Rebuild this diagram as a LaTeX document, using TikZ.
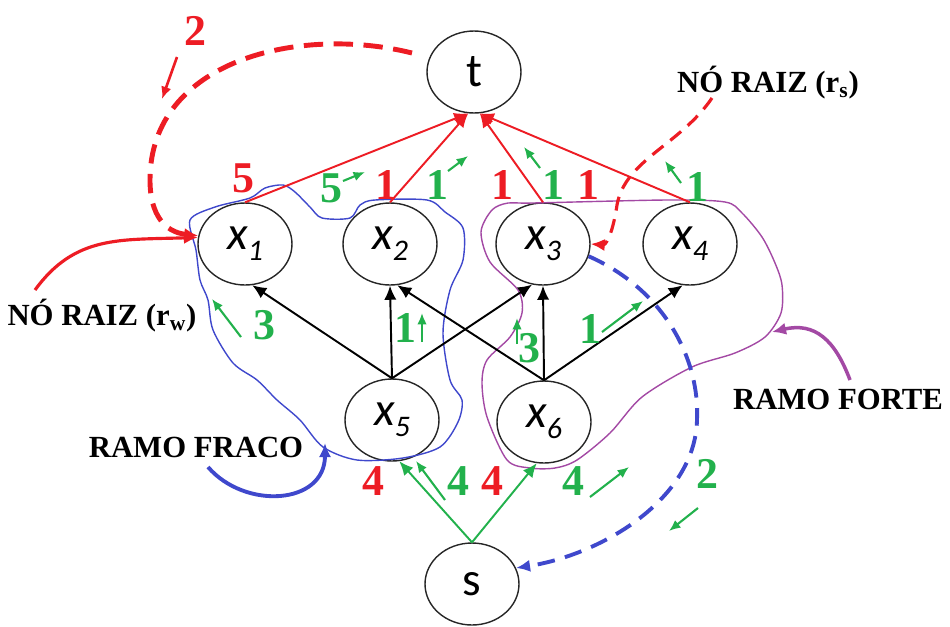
\documentclass[tikz,border=0pt]{standalone}
\usepackage{fontspec}
\setmainfont{Liberation Serif}
\newfontfamily\nodefont{Carlito}
\usepackage{tikz}
\usetikzlibrary{shapes.geometric,arrows.meta}

\definecolor{pred}{RGB}{237,28,36}
\definecolor{pgreen}{RGB}{34,177,76}
\definecolor{pblue}{RGB}{63,72,204}
\definecolor{ppurple}{RGB}{163,73,164}

\newcommand{\xsub}[1]{\textit{x}\raisebox{-0.5ex}{\fontsize{17}{17}\selectfont\textit{#1}}}

\begin{document}
\begin{tikzpicture}[x=0.02cm,y=-0.02cm,
  vert/.style={ellipse,draw=black!85,line width=0.8pt,minimum width=1.88cm,minimum height=1.64cm,inner sep=0pt,font=\nodefont\fontsize{27}{27}\selectfont},
  wt/.style={inner sep=0pt,font=\bfseries\fontsize{25}{25}\selectfont},
  tag/.style={inner sep=0pt,font=\bfseries\fontsize{17.5}{18}\selectfont},
  fl/.style={pgreen,line width=1.2pt,-{Latex[length=6.5pt,width=5.5pt]}},
  >={Latex[length=8pt,width=7pt]}]
  \useasboundingbox (0,0) rectangle (950,626);

  % vertices
  \node[vert] (t)  at (474,72)  {t};
  \node[vert] (x1) at (245,244) {\xsub{1}};
  \node[vert] (x2) at (390,244) {\xsub{2}};
  \node[vert] (x3) at (543,244) {\xsub{3}};
  \node[vert] (x4) at (690,244) {\xsub{4}};
  \node[vert] (x5) at (392,420) {\xsub{5}};
  \node[vert] (x6) at (544,422) {\xsub{6}};
  \node[vert] (s)  at (472,584) {s};

  % branches (drawn by hand)
  \draw[pblue,line width=0.8pt] plot[smooth cycle,tension=0.5] coordinates {
    (190,220) (215,207) (250,198) (265,188) (283,185) (295,192) (310,207) (322,218)
    (350,218) (360,205) (375,200) (427,200) (445,212) (463,228) (463,260) (450,290)
    (443,333) (450,380) (462,400) (458,422) (440,447) (403,458) (357,460) (323,447)
    (300,420) (277,400) (257,380) (233,363) (213,330) (208,300) (200,280) (196,250)};
  \draw[ppurple,line width=0.8pt] plot[smooth cycle,tension=0.5] coordinates {
    (492,210) (508,203) (533,203) (667,200) (725,202) (742,213) (762,237) (775,263)
    (782,285) (781,313) (765,337) (735,353) (692,367) (642,397) (610,433) (577,460)
    (555,468) (530,468) (507,460) (487,417) (482,383) (487,360) (510,337) (522,313)
    (518,290) (490,262) (481,232)};

  % edges into t
  \draw[pred,line width=1.1pt,->] (x1.north) -- (t.-98);
  \draw[pred,line width=1.1pt,->] (x2.north) -- (t.-98);
  \draw[pred,line width=1.1pt,->] (x3.north) -- (t.-82);
  \draw[pred,line width=1.1pt,->] (x4.north) -- (t.-82);

  % middle edges
  \draw[black,line width=1.1pt,->] (x5.north) -- (x1.-80);
  \draw[black,line width=1.1pt,->] (x5.north) -- (x2.south);
  \draw[black,line width=1.1pt,->] (x5.north) -- (x3.-105);
  \draw[black,line width=1.1pt,->] (x6.north) -- (x2.-80);
  \draw[black,line width=1.1pt,->] (x6.north) -- (x3.south);
  \draw[black,line width=1.1pt,->] (x6.north) -- (x4.-100);

  % edges out of s
  \draw[pgreen,line width=1.1pt,->] (s.north) -- (x5.-80);
  \draw[pgreen,line width=1.1pt,->] (s.north) -- (x6.-100);

  % capacities (red) and flows (green)
  \node[wt,pred]   (c1) at (243,178) {5};
  \node[wt,pgreen] (f1) at (331,188) {5};
  \node[wt,pred]   (c2) at (386,185) {1};
  \node[wt,pgreen] (f2) at (437,185) {1};
  \node[wt,pred]   (c3) at (502,185) {1};
  \node[wt,pgreen] (f3) at (553,185) {1};
  \node[wt,pred]   (c4) at (588,185) {1};
  \node[wt,pgreen] (f4) at (697,187) {1};
  \node[wt,pgreen] (f5) at (264,325) {3};
  \node[wt,pgreen] (f6) at (405,328) {1};
  \node[wt,pgreen] (f7) at (529,348) {3};
  \node[wt,pgreen] (f8) at (590,329) {1};
  \node[wt,pred]   (c9) at (373,481) {4};
  \node[wt,pgreen] (f9) at (458,481) {4};
  \node[wt,pred]   (c10) at (492,481) {4};
  \node[wt,pgreen] (f10) at (573,481) {4};
  \node[wt,pgreen] (f11) at (707,474) {2};
  \node[wt,pred]   (c11) at (195,31) {2};

  % little flow arrows
  \draw[fl] (343,181) -- (365,172);
  \draw[fl] (448,171) -- (468,156);
  \draw[fl] (540,168) -- (524,147);
  \draw[fl] (681,183) -- (665,161);
  \draw[fl] (241,337) -- (212,299);
  \draw[fl] (422,342) -- (422,313);
  \draw[fl] (517,344) -- (517,318);
  \draw[fl] (602,332) -- (643,301);
  \draw[fl] (445,500) -- (416,461);
  \draw[fl] (590,497) -- (629,467);
  \draw[fl] (698,508) -- (669,531);
  \draw[pred,line width=1.5pt,-{Latex[length=7pt,width=6pt]}] (177,57) -- (162,99);

  % annotations
  \node[tag] (rw) at (102,316) {NÓ RAIZ (r\textsubscript{w})};
  \node[tag] (rs) at (768,83) {NÓ RAIZ (r\textsubscript{s})};
  \node[tag] (fraco) at (196,447) {RAMO FRACO};
  \node[tag] (forte) at (838,399) {RAMO FORTE};

  \draw[pred,line width=2.8pt,dash pattern=on 11pt off 6pt,->] (412,53) .. controls (300,25) and (150,60) .. (150,180) .. controls (150,215) and (165,232) .. (x1.170);
  \draw[pred,line width=1.8pt,->] (35,290) .. controls (75,235) and (120,240) .. (x1.172);
  \draw[pred,line width=1.8pt,dash pattern=on 8pt off 5pt,->] (712,98) .. controls (680,145) and (625,160) .. (617,205) .. controls (612,238) and (605,245) .. (x3.east);
  \draw[pblue,line width=2.2pt,dash pattern=on 10pt off 6pt,->] (x3.-15) .. controls (665,290) and (700,360) .. (697,420) .. controls (695,500) and (600,555) .. (s.20);
  \draw[pblue,line width=2.2pt,->] (208,467) .. controls (245,510) and (325,505) .. (325,443);
  \draw[ppurple,line width=2pt,->] (850,380) .. controls (835,340) and (815,322) .. (772,332);
\end{tikzpicture}
\end{document}
